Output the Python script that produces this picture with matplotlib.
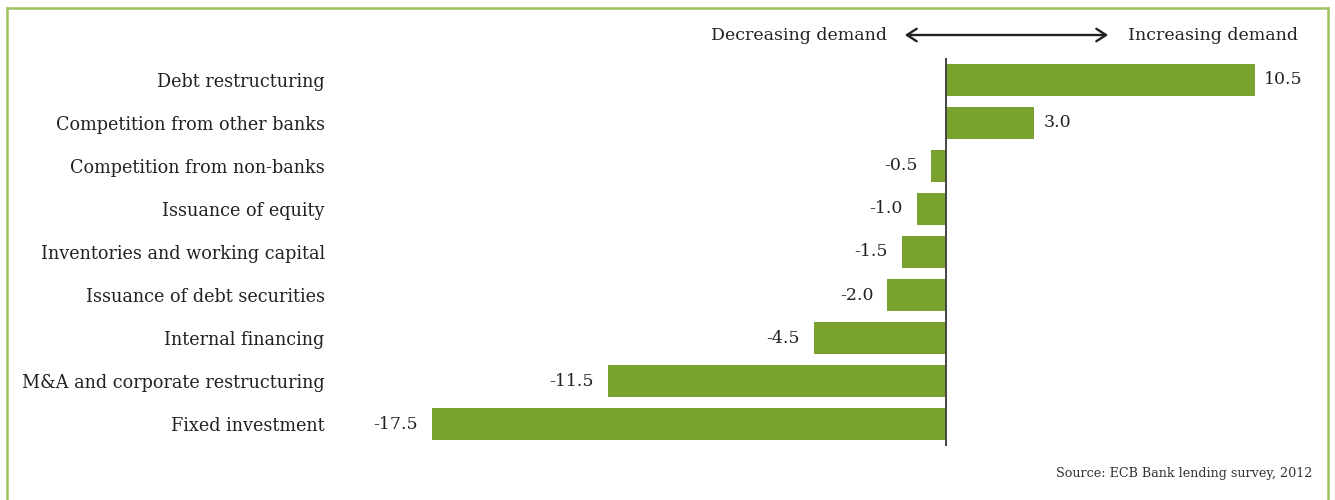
import matplotlib
matplotlib.use("Agg")
import matplotlib.pyplot as plt

categories = ["Debt restructuring", "Competition from other banks", "Competition from non-banks",
              "Issuance of equity", "Inventories and working capital", "Issuance of debt securities",
              "Internal financing", "M&A and corporate restructuring", "Fixed investment"]
values = [10.5, 3.0, -0.5, -1.0, -1.5, -2.0, -4.5, -11.5, -17.5]

plt.rcParams['font.family'] = ['DejaVu Serif']
BAR = "#7aa22f"
TXT = "#222222"

W, H = 1335, 500
fig = plt.figure(figsize=(W / 100, H / 100), dpi=100)

# axes placement in pixels
ax_left, ax_right, ax_top, ax_bot = 340, 1320, 58, 446
ax = fig.add_axes([ax_left / W, 1 - ax_bot / H, (ax_right - ax_left) / W, (ax_bot - ax_top) / H])
scale = 29.4
zero_px = 946
ax.set_xlim((ax_left - zero_px) / scale, (ax_right - zero_px) / scale)
ax.set_ylim(len(categories) - 0.5, -0.5)

ypos = list(range(len(categories)))
ax.barh(ypos, values, height=0.742, color=BAR, zorder=2)
ax.axvline(0, color="#444444", lw=1.4, zorder=3)

for y, v in zip(ypos, values):
    if v >= 0:
        ax.annotate(f"{v:.1f}", (v, y), xytext=(7, 0), textcoords="offset points",
                    ha="left", va="center", fontsize=12.5, color=TXT)
    else:
        ax.annotate(f"{v:.1f}", (v, y), xytext=(-10, 0), textcoords="offset points",
                    ha="right", va="center", fontsize=12.5, color=TXT)

ax.set_yticks(ypos)
ax.set_yticklabels(categories, fontsize=12.7, color=TXT)
ax.tick_params(axis="y", length=0, pad=11)
ax.set_xticks([])
for s in ax.spines.values():
    s.set_visible(False)

# header arrow and texts
ay = 1 - 35 / H
fig.text(887 / W, ay, "Decreasing demand", ha="right", va="center", fontsize=12.5, color=TXT)
fig.text(1128 / W, ay, "Increasing demand", ha="left", va="center", fontsize=12.5, color=TXT)
fig.patches.append(matplotlib.patches.FancyArrowPatch((902 / W, ay), (1111 / W, ay),
                   transform=fig.transFigure, arrowstyle="<->,head_length=7,head_width=4.5",
                   color=TXT, lw=1.7))

fig.text(1312 / W, 1 - 474 / H, "Source: ECB Bank lending survey, 2012", ha="right", va="center",
         fontsize=9.2, color="#333333")

# outer border (left, top, right)
bc = "#9bc360"
fig.add_artist(matplotlib.lines.Line2D([7 / W, 7 / W], [0, 1 - 8 / H], transform=fig.transFigure, color=bc, lw=1.8))
fig.add_artist(matplotlib.lines.Line2D([7 / W, 1328 / W], [1 - 8 / H, 1 - 8 / H], transform=fig.transFigure, color=bc, lw=1.8))
fig.add_artist(matplotlib.lines.Line2D([1328 / W, 1328 / W], [0, 1 - 8 / H], transform=fig.transFigure, color=bc, lw=1.8))

fig.savefig("out.png", dpi=100)
